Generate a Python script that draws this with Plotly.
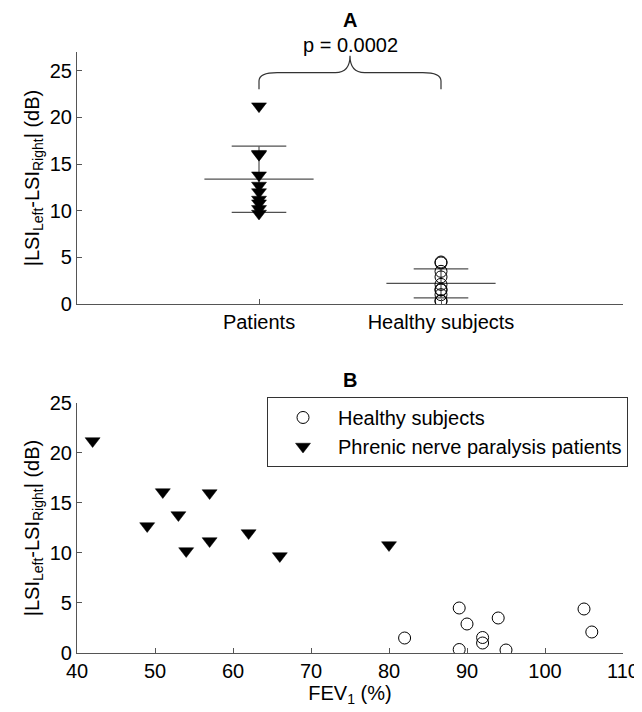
import numpy as np
import plotly.graph_objects as go

# ---- data ----
group_labels = ["Patients", "Healthy subjects"]
patients_fev1 = [42, 49, 51, 53, 54, 57, 57, 62, 66, 80]
patients_lsi = [21.2, 12.7, 16.1, 13.8, 10.2, 16.0, 11.2, 12.0, 9.7, 10.8]
healthy_fev1 = [82, 89, 89, 90, 92, 92, 94, 95, 105, 106]
healthy_lsi = [1.5, 4.5, 0.35, 2.9, 1.55, 1.0, 3.5, 0.3, 4.4, 2.1]
p_value_text = "p = 0.0002"

FONT = "Liberation Sans, Arial, sans-serif"
FS = 20
AX = "#555555"
LINE = "#505050"

fig = go.Figure()

# ---- Panel A: mean +/- SD lines ----
for pos, vals in [(1, patients_lsi), (2, healthy_lsi)]:
    m = float(np.mean(vals))
    s = float(np.std(vals, ddof=1))
    fig.add_trace(go.Scatter(
        x=[pos - 0.3, pos + 0.3, None, pos - 0.15, pos + 0.15, None,
           pos - 0.15, pos + 0.15, None, pos, pos],
        y=[m, m, None, m + s, m + s, None, m - s, m - s, None, m - s, m + s],
        mode="lines", line=dict(color=LINE, width=1.2),
        xaxis="x", yaxis="y", showlegend=False, hoverinfo="skip"))

fig.add_trace(go.Scatter(
    x=[1] * len(patients_lsi), y=patients_lsi, mode="markers",
    marker=dict(symbol="triangle-down", size=13, color="black",
                line=dict(color="black", width=0.5)),
    xaxis="x", yaxis="y", showlegend=False))
fig.add_trace(go.Scatter(
    x=[2] * len(healthy_lsi), y=healthy_lsi, mode="markers",
    marker=dict(symbol="circle-open", size=12, color="black",
                line=dict(color="black", width=1)),
    xaxis="x", yaxis="y", showlegend=False))

# ---- Panel B ----
fig.add_trace(go.Scatter(
    x=healthy_fev1, y=healthy_lsi, mode="markers", name="Healthy subjects",
    marker=dict(symbol="circle-open", size=12, color="black",
                line=dict(color="black", width=1)),
    xaxis="x2", yaxis="y2"))
fig.add_trace(go.Scatter(
    x=patients_fev1, y=patients_lsi, mode="markers",
    name="Phrenic nerve paralysis patients",
    marker=dict(symbol="triangle-down", size=13, color="black",
                line=dict(color="black", width=0.5)),
    xaxis="x2", yaxis="y2"))

# brace between the groups
brace = ("M 1,23 L 1,23.9 Q 1,24.8 1.1,24.8 L 1.42,24.8 Q 1.5,24.8 1.5,26.6 "
         "Q 1.5,24.8 1.58,24.8 L 1.9,24.8 Q 2,24.8 2,23.9 L 2,23")
fig.add_shape(type="path", path=brace, xref="x", yref="y",
              line=dict(color="#333333", width=1.2))

axis_common = dict(showline=True, linecolor=AX, linewidth=1.2, ticks="inside",
                   ticklen=5, tickcolor=AX, tickwidth=1.2, showgrid=False,
                   zeroline=False, mirror=False, automargin=False,
                   tickfont=dict(family=FONT, size=FS, color="black"))

ytitle = "|LSI<sub>Left</sub>-LSI<sub>Right</sub>| (dB)"

# the page body adds an 8px margin, so the figure is sized to fit the window
fig.update_layout(
    width=634, height=704,
    margin=dict(l=69, r=19, t=44, b=59),
    plot_bgcolor="white", paper_bgcolor="white",
    font=dict(family=FONT, size=FS, color="black"),
    xaxis=dict(domain=[0, 1], range=[0, 3], tickvals=[1, 2],
               ticktext=group_labels, anchor="y", **axis_common),
    yaxis=dict(domain=[0.5807, 1.0], range=[0, 27], tickvals=[0, 5, 10, 15, 20, 25],
               anchor="x", title=dict(text=ytitle, font=dict(family=FONT, size=FS),
                                      standoff=4),
               **axis_common),
    xaxis2=dict(domain=[0, 1], range=[40, 110], dtick=10, anchor="y2",
                title=dict(text="FEV<sub>1</sub> (%)", font=dict(family=FONT, size=FS),
                           standoff=2),
                **axis_common),
    yaxis2=dict(domain=[0, 0.416], range=[0, 25], tickvals=[0, 5, 10, 15, 20, 25],
                anchor="x2", title=dict(text=ytitle, font=dict(family=FONT, size=FS),
                                        standoff=4),
                **axis_common),
    legend=dict(x=0.348, y=0.426, xanchor="left", yanchor="top",
                bordercolor="#333333", borderwidth=1, bgcolor="white",
                font=dict(family=FONT, size=FS), itemwidth=60,
                tracegroupgap=0),
)

fig.add_annotation(text="<b>A</b>", xref="x domain", yref="y domain", x=0.5, y=1.0,
                   yanchor="middle", yshift=32, showarrow=False,
                   font=dict(family=FONT, size=FS))
fig.add_annotation(text=p_value_text, xref="x domain", yref="y domain", x=0.5, y=1.0,
                   yanchor="middle", yshift=7, showarrow=False,
                   font=dict(family=FONT, size=FS))
fig.add_annotation(text="<b>B</b>", xref="x2 domain", yref="y2 domain", x=0.5, y=1.0,
                   yanchor="middle", yshift=23, showarrow=False,
                   font=dict(family=FONT, size=FS))

fig.write_html("out.html")
